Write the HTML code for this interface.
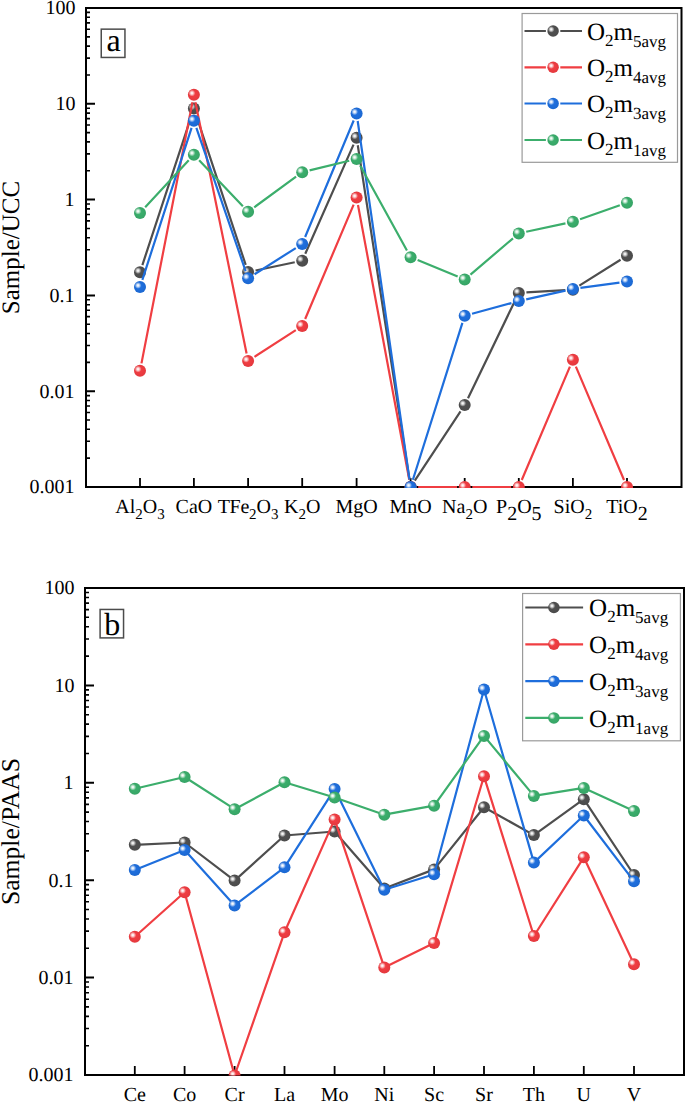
<!DOCTYPE html>
<html><head><meta charset="utf-8"><title>chart</title>
<style>
html,body{margin:0;padding:0;background:#fff;}
svg{display:block;}
text{font-family:"Liberation Serif",serif;fill:#000;text-rendering:geometricPrecision;}
.tl{font-size:20px;}
.tl .s{font-size:15px;}
.tl .b{font-size:20px;}
.tt{font-size:25px;}
.tag{font-size:32px;}
.lg{font-size:25px;}
.lg .ls{font-size:17px;}
.lg .lss{font-size:17px;}
</style></head>
<body>
<svg width="685" height="1102" viewBox="0 0 685 1102">
<defs><radialGradient id="g_gray" cx="0.5" cy="0.5" r="0.5" fx="0.35" fy="0.35"><stop offset="0" stop-color="#616161"/><stop offset="0.5" stop-color="#4f4f4f"/><stop offset="1" stop-color="#4b4b4b"/></radialGradient><radialGradient id="g_red" cx="0.5" cy="0.5" r="0.5" fx="0.35" fy="0.35"><stop offset="0" stop-color="#f15054"/><stop offset="0.5" stop-color="#ef3c41"/><stop offset="1" stop-color="#e3393e"/></radialGradient><radialGradient id="g_blue" cx="0.5" cy="0.5" r="0.5" fx="0.35" fy="0.35"><stop offset="0" stop-color="#347ce0"/><stop offset="0.5" stop-color="#1e6edc"/><stop offset="1" stop-color="#1c68d1"/></radialGradient><radialGradient id="g_green" cx="0.5" cy="0.5" r="0.5" fx="0.35" fy="0.35"><stop offset="0" stop-color="#4eb57a"/><stop offset="0.5" stop-color="#3aad6b"/><stop offset="1" stop-color="#37a466"/></radialGradient><radialGradient id="hl" cx="0.5" cy="0.5" r="0.5"><stop offset="0" stop-color="#fff" stop-opacity="1"/><stop offset="0.3" stop-color="#fff" stop-opacity="0.85"/><stop offset="1" stop-color="#fff" stop-opacity="0"/></radialGradient>
<clipPath id="clipA"><rect x="86" y="8" width="595.5" height="480"/></clipPath>
<clipPath id="clipB"><rect x="85" y="588" width="599" height="487.5"/></clipPath>
</defs>
<rect width="685" height="1102" fill="#fff"/>
<path d="M86 74.96H90M86 58.09H90M86 46.12H90M86 36.84H90M86 29.25H90M86 22.84H90M86 17.28H90M86 12.38H90M86 170.76H90M86 153.89H90M86 141.92H90M86 132.64H90M86 125.05H90M86 118.64H90M86 113.08H90M86 108.18H90M86 266.56H90M86 249.69H90M86 237.72H90M86 228.44H90M86 220.85H90M86 214.44H90M86 208.88H90M86 203.98H90M86 362.36H90M86 345.49H90M86 333.52H90M86 324.24H90M86 316.65H90M86 310.24H90M86 304.68H90M86 299.78H90M86 458.16H90M86 441.29H90M86 429.32H90M86 420.04H90M86 412.45H90M86 406.04H90M86 400.48H90M86 395.58H90" stroke="#000" stroke-width="1.6" fill="none"/>
<path d="M86 103.8H95M86 199.6H95M86 295.4H95M86 391.2H95" stroke="#000" stroke-width="2" fill="none"/>
<path d="M140 487V478M193.9 487V478M248.1 487V478M302.2 487V478M356.6 487V478M410.6 487V478M464.7 487V478M518.8 487V478M572.9 487V478M627 487V478" stroke="#000" stroke-width="1.8" fill="none"/>
<rect x="86" y="8" width="595.5" height="479" fill="none" stroke="#000" stroke-width="2"/>
<text x="75.5" y="14.3" class="tl" text-anchor="end">100</text>
<text x="75.5" y="110.1" class="tl" text-anchor="end">10</text>
<text x="74.4" y="205.9" class="tl" text-anchor="end">1</text>
<text x="74.4" y="301.7" class="tl" text-anchor="end">0.1</text>
<text x="74.4" y="397.5" class="tl" text-anchor="end">0.01</text>
<text x="74.4" y="493.3" class="tl" text-anchor="end">0.001</text>
<text x="140" y="513" class="tl" text-anchor="middle">Al<tspan class="s" dy="5.5">2</tspan><tspan dy="-5.5">O</tspan><tspan class="s" dy="5.5">3</tspan></text>
<text x="193.9" y="513" class="tl" text-anchor="middle">CaO</text>
<text x="248.1" y="513" class="tl" text-anchor="middle"><tspan style="letter-spacing:-0.3px">TFe</tspan><tspan class="s" dy="5.5">2</tspan><tspan dy="-5.5">O</tspan><tspan class="s" dy="5.5">3</tspan></text>
<text x="302.2" y="513" class="tl" text-anchor="middle">K<tspan class="s" dy="5.5">2</tspan><tspan dy="-5.5">O</tspan></text>
<text x="356.6" y="513" class="tl" text-anchor="middle">MgO</text>
<text x="410.6" y="513" class="tl" text-anchor="middle">MnO</text>
<text x="464.7" y="513" class="tl" text-anchor="middle">Na<tspan class="s" dy="5.5">2</tspan><tspan dy="-5.5">O</tspan></text>
<text x="518.8" y="513" class="tl" text-anchor="middle">P<tspan class="b" dy="6.8">2</tspan><tspan dy="-6.8">O</tspan><tspan class="b" dy="6.8">5</tspan></text>
<text x="572.9" y="513" class="tl" text-anchor="middle">SiO<tspan class="s" dy="5.5">2</tspan></text>
<text x="627" y="513" class="tl" text-anchor="middle">TiO<tspan class="b" dy="6.8">2</tspan></text>
<text transform="translate(19.3 247.5) rotate(-90)" class="tt" style="font-size:25px" text-anchor="middle">Sample/UCC</text>
<rect x="101.25" y="29.15" width="23.7" height="28.3" fill="none" stroke="#4c4c4c" stroke-width="1.5"/>
<text x="113.7" y="50.95" class="tag" text-anchor="middle">a</text>
<g clip-path="url(#clipA)">
<path d="M142.37 265.08L191.53 115.62M196.29 115.61L245.71 264.89M255.54 270.53L294.76 262.27M305.27 253.75L353.53 144.65M357.76 145.21L409.44 479.49M414.79 480.66L460.51 411.34M468 398.16L515.5 299.74M526.39 292.45L565.31 290.15M579.33 285.66L620.57 259.74" stroke="#4e4e4e" stroke-width="2.2" fill="none" stroke-linejoin="round" stroke-linecap="butt"/>
<circle cx="140" cy="272.3" r="6" fill="url(#g_gray)"/><circle cx="138" cy="270.6" r="3.4" fill="url(#hl)"/>
<circle cx="193.9" cy="108.4" r="6" fill="url(#g_gray)"/><circle cx="191.9" cy="106.7" r="3.4" fill="url(#hl)"/>
<circle cx="248.1" cy="272.1" r="6" fill="url(#g_gray)"/><circle cx="246.1" cy="270.4" r="3.4" fill="url(#hl)"/>
<circle cx="302.2" cy="260.7" r="6" fill="url(#g_gray)"/><circle cx="300.2" cy="259" r="3.4" fill="url(#hl)"/>
<circle cx="356.6" cy="137.7" r="6" fill="url(#g_gray)"/><circle cx="354.6" cy="136" r="3.4" fill="url(#hl)"/>
<circle cx="410.6" cy="487" r="6" fill="url(#g_gray)"/><circle cx="408.6" cy="485.3" r="3.4" fill="url(#hl)"/>
<circle cx="464.7" cy="405" r="6" fill="url(#g_gray)"/><circle cx="462.7" cy="403.3" r="3.4" fill="url(#hl)"/>
<circle cx="518.8" cy="292.9" r="6" fill="url(#g_gray)"/><circle cx="516.8" cy="291.2" r="3.4" fill="url(#hl)"/>
<circle cx="572.9" cy="289.7" r="6" fill="url(#g_gray)"/><circle cx="570.9" cy="288" r="3.4" fill="url(#hl)"/>
<circle cx="627" cy="255.7" r="6" fill="url(#g_gray)"/><circle cx="625" cy="254" r="3.4" fill="url(#hl)"/>
<path d="M141.46 363.34L192.44 102.26M195.42 102.25L246.58 353.55M254.48 356.87L295.82 330.13M305.16 319L353.64 204.6M357.99 205.07L409.21 479.53M418.2 487L457.1 487M472.3 487L511.2 487M521.77 480.01L569.93 366.69M575.87 366.69L624.03 480.01" stroke="#f03e42" stroke-width="2.2" fill="none" stroke-linejoin="round" stroke-linecap="butt"/>
<circle cx="140" cy="370.8" r="6" fill="url(#g_red)"/><circle cx="138" cy="369.1" r="3.4" fill="url(#hl)"/>
<circle cx="193.9" cy="94.8" r="6" fill="url(#g_red)"/><circle cx="191.9" cy="93.1" r="3.4" fill="url(#hl)"/>
<circle cx="248.1" cy="361" r="6" fill="url(#g_red)"/><circle cx="246.1" cy="359.3" r="3.4" fill="url(#hl)"/>
<circle cx="302.2" cy="326" r="6" fill="url(#g_red)"/><circle cx="300.2" cy="324.3" r="3.4" fill="url(#hl)"/>
<circle cx="356.6" cy="197.6" r="6" fill="url(#g_red)"/><circle cx="354.6" cy="195.9" r="3.4" fill="url(#hl)"/>
<circle cx="410.6" cy="487" r="6" fill="url(#g_red)"/><circle cx="408.6" cy="485.3" r="3.4" fill="url(#hl)"/>
<circle cx="464.7" cy="487" r="6" fill="url(#g_red)"/><circle cx="462.7" cy="485.3" r="3.4" fill="url(#hl)"/>
<circle cx="518.8" cy="487" r="6" fill="url(#g_red)"/><circle cx="516.8" cy="485.3" r="3.4" fill="url(#hl)"/>
<circle cx="572.9" cy="359.7" r="6" fill="url(#g_red)"/><circle cx="570.9" cy="358" r="3.4" fill="url(#hl)"/>
<circle cx="627" cy="487" r="6" fill="url(#g_red)"/><circle cx="625" cy="485.3" r="3.4" fill="url(#hl)"/>
<path d="M142.34 279.87L191.56 127.93M196.37 127.89L245.63 271.11M254.52 274.23L295.78 248.07M305.12 236.99L353.68 120.51M357.69 121.02L409.51 479.48M412.89 479.75L462.41 322.95M472.04 313.72L511.46 303.08M526.22 299.44L565.48 290.66M580.43 287.96L619.47 282.54" stroke="#1e6edc" stroke-width="2.2" fill="none" stroke-linejoin="round" stroke-linecap="butt"/>
<circle cx="140" cy="287.1" r="6" fill="url(#g_blue)"/><circle cx="138" cy="285.4" r="3.4" fill="url(#hl)"/>
<circle cx="193.9" cy="120.7" r="6" fill="url(#g_blue)"/><circle cx="191.9" cy="119" r="3.4" fill="url(#hl)"/>
<circle cx="248.1" cy="278.3" r="6" fill="url(#g_blue)"/><circle cx="246.1" cy="276.6" r="3.4" fill="url(#hl)"/>
<circle cx="302.2" cy="244" r="6" fill="url(#g_blue)"/><circle cx="300.2" cy="242.3" r="3.4" fill="url(#hl)"/>
<circle cx="356.6" cy="113.5" r="6" fill="url(#g_blue)"/><circle cx="354.6" cy="111.8" r="3.4" fill="url(#hl)"/>
<circle cx="410.6" cy="487" r="6" fill="url(#g_blue)"/><circle cx="408.6" cy="485.3" r="3.4" fill="url(#hl)"/>
<circle cx="464.7" cy="315.7" r="6" fill="url(#g_blue)"/><circle cx="462.7" cy="314" r="3.4" fill="url(#hl)"/>
<circle cx="518.8" cy="301.1" r="6" fill="url(#g_blue)"/><circle cx="516.8" cy="299.4" r="3.4" fill="url(#hl)"/>
<circle cx="572.9" cy="289" r="6" fill="url(#g_blue)"/><circle cx="570.9" cy="287.3" r="3.4" fill="url(#hl)"/>
<circle cx="627" cy="281.5" r="6" fill="url(#g_blue)"/><circle cx="625" cy="279.8" r="3.4" fill="url(#hl)"/>
<path d="M145.16 207.32L188.74 160.28M199.13 160.21L242.87 206.29M254.23 207.31L296.07 176.69M309.59 170.41L349.21 160.79M360.26 165.66L406.94 250.54M417.63 260.1L457.67 276.6M470.48 274.57L513.02 238.33M526.23 231.79L565.47 223.31M580.07 219.18L619.83 205.22" stroke="#3cae6c" stroke-width="2.2" fill="none" stroke-linejoin="round" stroke-linecap="butt"/>
<circle cx="140" cy="212.9" r="6" fill="url(#g_green)"/><circle cx="138" cy="211.2" r="3.4" fill="url(#hl)"/>
<circle cx="193.9" cy="154.7" r="6" fill="url(#g_green)"/><circle cx="191.9" cy="153" r="3.4" fill="url(#hl)"/>
<circle cx="248.1" cy="211.8" r="6" fill="url(#g_green)"/><circle cx="246.1" cy="210.1" r="3.4" fill="url(#hl)"/>
<circle cx="302.2" cy="172.2" r="6" fill="url(#g_green)"/><circle cx="300.2" cy="170.5" r="3.4" fill="url(#hl)"/>
<circle cx="356.6" cy="159" r="6" fill="url(#g_green)"/><circle cx="354.6" cy="157.3" r="3.4" fill="url(#hl)"/>
<circle cx="410.6" cy="257.2" r="6" fill="url(#g_green)"/><circle cx="408.6" cy="255.5" r="3.4" fill="url(#hl)"/>
<circle cx="464.7" cy="279.5" r="6" fill="url(#g_green)"/><circle cx="462.7" cy="277.8" r="3.4" fill="url(#hl)"/>
<circle cx="518.8" cy="233.4" r="6" fill="url(#g_green)"/><circle cx="516.8" cy="231.7" r="3.4" fill="url(#hl)"/>
<circle cx="572.9" cy="221.7" r="6" fill="url(#g_green)"/><circle cx="570.9" cy="220" r="3.4" fill="url(#hl)"/>
<circle cx="627" cy="202.7" r="6" fill="url(#g_green)"/><circle cx="625" cy="201" r="3.4" fill="url(#hl)"/>
</g>
<rect x="522.1" y="13.5" width="155.4" height="148.8" fill="#fff" stroke="#9a9a9a" stroke-width="1.2"/>
<path d="M524.5 31H545.9M560.3 31H582" stroke="#4e4e4e" stroke-width="2.2" fill="none"/>
<circle cx="553.1" cy="31" r="5.75" fill="url(#g_gray)"/><circle cx="551.18" cy="29.37" r="3.26" fill="url(#hl)"/>
<text x="587" y="39.6" class="lg">O<tspan class="ls" dy="6">2</tspan><tspan dy="-6">m</tspan><tspan class="lss" dy="7">5avg</tspan></text>
<path d="M524.5 67.3H545.9M560.3 67.3H582" stroke="#f03e42" stroke-width="2.2" fill="none"/>
<circle cx="553.1" cy="67.3" r="5.75" fill="url(#g_red)"/><circle cx="551.18" cy="65.67" r="3.26" fill="url(#hl)"/>
<text x="587" y="75.9" class="lg">O<tspan class="ls" dy="6">2</tspan><tspan dy="-6">m</tspan><tspan class="lss" dy="7">4avg</tspan></text>
<path d="M524.5 103.5H545.9M560.3 103.5H582" stroke="#1e6edc" stroke-width="2.2" fill="none"/>
<circle cx="553.1" cy="103.5" r="5.75" fill="url(#g_blue)"/><circle cx="551.18" cy="101.87" r="3.26" fill="url(#hl)"/>
<text x="587" y="112.1" class="lg">O<tspan class="ls" dy="6">2</tspan><tspan dy="-6">m</tspan><tspan class="lss" dy="7">3avg</tspan></text>
<path d="M524.5 140H545.9M560.3 140H582" stroke="#3cae6c" stroke-width="2.2" fill="none"/>
<circle cx="553.1" cy="140" r="5.75" fill="url(#g_green)"/><circle cx="551.18" cy="138.37" r="3.26" fill="url(#hl)"/>
<text x="587" y="148.6" class="lg">O<tspan class="ls" dy="6">2</tspan><tspan dy="-6">m</tspan><tspan class="lss" dy="7">1avg</tspan></text>
<path d="M85 656.08H89M85 638.93H89M85 626.76H89M85 617.32H89M85 609.61H89M85 603.09H89M85 597.44H89M85 592.46H89M85 753.48H89M85 736.33H89M85 724.16H89M85 714.72H89M85 707.01H89M85 700.49H89M85 694.84H89M85 689.86H89M85 850.88H89M85 833.73H89M85 821.56H89M85 812.12H89M85 804.41H89M85 797.89H89M85 792.24H89M85 787.26H89M85 948.28H89M85 931.13H89M85 918.96H89M85 909.52H89M85 901.81H89M85 895.29H89M85 889.64H89M85 884.66H89M85 1045.68H89M85 1028.53H89M85 1016.36H89M85 1006.92H89M85 999.21H89M85 992.69H89M85 987.04H89M85 982.06H89" stroke="#000" stroke-width="1.6" fill="none"/>
<path d="M85 685.4H94M85 782.8H94M85 880.2H94M85 977.6H94" stroke="#000" stroke-width="2" fill="none"/>
<path d="M134.8 1075V1066M184.6 1075V1066M234.6 1075V1066M284.5 1075V1066M334.6 1075V1066M384.3 1075V1066M434.1 1075V1066M484 1075V1066M533.9 1075V1066M583.8 1075V1066M634 1075V1066" stroke="#000" stroke-width="1.8" fill="none"/>
<rect x="85" y="588" width="599" height="487" fill="none" stroke="#000" stroke-width="2"/>
<text x="74.5" y="594.3" class="tl" text-anchor="end">100</text>
<text x="74.5" y="691.7" class="tl" text-anchor="end">10</text>
<text x="73.4" y="789.1" class="tl" text-anchor="end">1</text>
<text x="73.4" y="886.5" class="tl" text-anchor="end">0.1</text>
<text x="73.4" y="983.9" class="tl" text-anchor="end">0.01</text>
<text x="73.4" y="1081.3" class="tl" text-anchor="end">0.001</text>
<text x="134.8" y="1100.5" class="tl" text-anchor="middle">Ce</text>
<text x="184.6" y="1100.5" class="tl" text-anchor="middle">Co</text>
<text x="234.6" y="1100.5" class="tl" text-anchor="middle">Cr</text>
<text x="284.5" y="1100.5" class="tl" text-anchor="middle">La</text>
<text x="334.6" y="1100.5" class="tl" text-anchor="middle">Mo</text>
<text x="384.3" y="1100.5" class="tl" text-anchor="middle">Ni</text>
<text x="434.1" y="1100.5" class="tl" text-anchor="middle">Sc</text>
<text x="484" y="1100.5" class="tl" text-anchor="middle">Sr</text>
<text x="533.9" y="1100.5" class="tl" text-anchor="middle">Th</text>
<text x="583.8" y="1100.5" class="tl" text-anchor="middle">U</text>
<text x="634" y="1100.5" class="tl" text-anchor="middle">V</text>
<text transform="translate(18.8 831.5) rotate(-90)" class="tt" style="font-size:25.6px" text-anchor="middle">Sample/PAAS</text>
<rect x="100.1" y="609.45" width="23.45" height="28.45" fill="none" stroke="#4c4c4c" stroke-width="1.5"/>
<text x="112.22" y="634.6" class="tag" text-anchor="middle">b</text>
<g clip-path="url(#clipB)">
<path d="M134.8 844.8L184.6 842.5L234.6 880.6L284.5 835.5L334.6 831.5L384.3 888.5L434.1 869.4L484 807.2L533.9 835.1L583.8 799.2L634 875" stroke="#4e4e4e" stroke-width="2.2" fill="none" stroke-linejoin="round" stroke-linecap="round"/>
<circle cx="134.8" cy="844.8" r="6" fill="url(#g_gray)"/><circle cx="132.8" cy="843.1" r="3.4" fill="url(#hl)"/>
<circle cx="184.6" cy="842.5" r="6" fill="url(#g_gray)"/><circle cx="182.6" cy="840.8" r="3.4" fill="url(#hl)"/>
<circle cx="234.6" cy="880.6" r="6" fill="url(#g_gray)"/><circle cx="232.6" cy="878.9" r="3.4" fill="url(#hl)"/>
<circle cx="284.5" cy="835.5" r="6" fill="url(#g_gray)"/><circle cx="282.5" cy="833.8" r="3.4" fill="url(#hl)"/>
<circle cx="334.6" cy="831.5" r="6" fill="url(#g_gray)"/><circle cx="332.6" cy="829.8" r="3.4" fill="url(#hl)"/>
<circle cx="384.3" cy="888.5" r="6" fill="url(#g_gray)"/><circle cx="382.3" cy="886.8" r="3.4" fill="url(#hl)"/>
<circle cx="434.1" cy="869.4" r="6" fill="url(#g_gray)"/><circle cx="432.1" cy="867.7" r="3.4" fill="url(#hl)"/>
<circle cx="484" cy="807.2" r="6" fill="url(#g_gray)"/><circle cx="482" cy="805.5" r="3.4" fill="url(#hl)"/>
<circle cx="533.9" cy="835.1" r="6" fill="url(#g_gray)"/><circle cx="531.9" cy="833.4" r="3.4" fill="url(#hl)"/>
<circle cx="583.8" cy="799.2" r="6" fill="url(#g_gray)"/><circle cx="581.8" cy="797.5" r="3.4" fill="url(#hl)"/>
<circle cx="634" cy="875" r="6" fill="url(#g_gray)"/><circle cx="632" cy="873.3" r="3.4" fill="url(#hl)"/>
<path d="M134.8 936.8L184.6 892.3L234.6 1075.5L284.5 932.3L334.6 819.4L384.3 967.4L434.1 942.9L484 776.3L533.9 936L583.8 857.3L634 964.2" stroke="#f03e42" stroke-width="2.2" fill="none" stroke-linejoin="round" stroke-linecap="round"/>
<circle cx="134.8" cy="936.8" r="6" fill="url(#g_red)"/><circle cx="132.8" cy="935.1" r="3.4" fill="url(#hl)"/>
<circle cx="184.6" cy="892.3" r="6" fill="url(#g_red)"/><circle cx="182.6" cy="890.6" r="3.4" fill="url(#hl)"/>
<circle cx="234.6" cy="1075.5" r="6" fill="url(#g_red)"/><circle cx="232.6" cy="1073.8" r="3.4" fill="url(#hl)"/>
<circle cx="284.5" cy="932.3" r="6" fill="url(#g_red)"/><circle cx="282.5" cy="930.6" r="3.4" fill="url(#hl)"/>
<circle cx="334.6" cy="819.4" r="6" fill="url(#g_red)"/><circle cx="332.6" cy="817.7" r="3.4" fill="url(#hl)"/>
<circle cx="384.3" cy="967.4" r="6" fill="url(#g_red)"/><circle cx="382.3" cy="965.7" r="3.4" fill="url(#hl)"/>
<circle cx="434.1" cy="942.9" r="6" fill="url(#g_red)"/><circle cx="432.1" cy="941.2" r="3.4" fill="url(#hl)"/>
<circle cx="484" cy="776.3" r="6" fill="url(#g_red)"/><circle cx="482" cy="774.6" r="3.4" fill="url(#hl)"/>
<circle cx="533.9" cy="936" r="6" fill="url(#g_red)"/><circle cx="531.9" cy="934.3" r="3.4" fill="url(#hl)"/>
<circle cx="583.8" cy="857.3" r="6" fill="url(#g_red)"/><circle cx="581.8" cy="855.6" r="3.4" fill="url(#hl)"/>
<circle cx="634" cy="964.2" r="6" fill="url(#g_red)"/><circle cx="632" cy="962.5" r="3.4" fill="url(#hl)"/>
<path d="M134.8 869.9L184.6 850.1L234.6 905.4L284.5 867.3L334.6 789.1L384.3 889.8L434.1 874.3L484 689.5L533.9 862.6L583.8 815.5L634 881.3" stroke="#1e6edc" stroke-width="2.2" fill="none" stroke-linejoin="round" stroke-linecap="round"/>
<circle cx="134.8" cy="869.9" r="6" fill="url(#g_blue)"/><circle cx="132.8" cy="868.2" r="3.4" fill="url(#hl)"/>
<circle cx="184.6" cy="850.1" r="6" fill="url(#g_blue)"/><circle cx="182.6" cy="848.4" r="3.4" fill="url(#hl)"/>
<circle cx="234.6" cy="905.4" r="6" fill="url(#g_blue)"/><circle cx="232.6" cy="903.7" r="3.4" fill="url(#hl)"/>
<circle cx="284.5" cy="867.3" r="6" fill="url(#g_blue)"/><circle cx="282.5" cy="865.6" r="3.4" fill="url(#hl)"/>
<circle cx="334.6" cy="789.1" r="6" fill="url(#g_blue)"/><circle cx="332.6" cy="787.4" r="3.4" fill="url(#hl)"/>
<circle cx="384.3" cy="889.8" r="6" fill="url(#g_blue)"/><circle cx="382.3" cy="888.1" r="3.4" fill="url(#hl)"/>
<circle cx="434.1" cy="874.3" r="6" fill="url(#g_blue)"/><circle cx="432.1" cy="872.6" r="3.4" fill="url(#hl)"/>
<circle cx="484" cy="689.5" r="6" fill="url(#g_blue)"/><circle cx="482" cy="687.8" r="3.4" fill="url(#hl)"/>
<circle cx="533.9" cy="862.6" r="6" fill="url(#g_blue)"/><circle cx="531.9" cy="860.9" r="3.4" fill="url(#hl)"/>
<circle cx="583.8" cy="815.5" r="6" fill="url(#g_blue)"/><circle cx="581.8" cy="813.8" r="3.4" fill="url(#hl)"/>
<circle cx="634" cy="881.3" r="6" fill="url(#g_blue)"/><circle cx="632" cy="879.6" r="3.4" fill="url(#hl)"/>
<path d="M134.8 788.8L184.6 777L234.6 809.2L284.5 782.3L334.6 797.5L384.3 814.7L434.1 805.7L484 735.9L533.9 795.9L583.8 787.9L634 810.9" stroke="#3cae6c" stroke-width="2.2" fill="none" stroke-linejoin="round" stroke-linecap="round"/>
<circle cx="134.8" cy="788.8" r="6" fill="url(#g_green)"/><circle cx="132.8" cy="787.1" r="3.4" fill="url(#hl)"/>
<circle cx="184.6" cy="777" r="6" fill="url(#g_green)"/><circle cx="182.6" cy="775.3" r="3.4" fill="url(#hl)"/>
<circle cx="234.6" cy="809.2" r="6" fill="url(#g_green)"/><circle cx="232.6" cy="807.5" r="3.4" fill="url(#hl)"/>
<circle cx="284.5" cy="782.3" r="6" fill="url(#g_green)"/><circle cx="282.5" cy="780.6" r="3.4" fill="url(#hl)"/>
<circle cx="334.6" cy="797.5" r="6" fill="url(#g_green)"/><circle cx="332.6" cy="795.8" r="3.4" fill="url(#hl)"/>
<circle cx="384.3" cy="814.7" r="6" fill="url(#g_green)"/><circle cx="382.3" cy="813" r="3.4" fill="url(#hl)"/>
<circle cx="434.1" cy="805.7" r="6" fill="url(#g_green)"/><circle cx="432.1" cy="804" r="3.4" fill="url(#hl)"/>
<circle cx="484" cy="735.9" r="6" fill="url(#g_green)"/><circle cx="482" cy="734.2" r="3.4" fill="url(#hl)"/>
<circle cx="533.9" cy="795.9" r="6" fill="url(#g_green)"/><circle cx="531.9" cy="794.2" r="3.4" fill="url(#hl)"/>
<circle cx="583.8" cy="787.9" r="6" fill="url(#g_green)"/><circle cx="581.8" cy="786.2" r="3.4" fill="url(#hl)"/>
<circle cx="634" cy="810.9" r="6" fill="url(#g_green)"/><circle cx="632" cy="809.2" r="3.4" fill="url(#hl)"/>
</g>
<rect x="522.6" y="593.5" width="157.8" height="147.3" fill="#fff" stroke="#9a9a9a" stroke-width="1.2"/>
<path d="M525.3 607.5H583.1" stroke="#4e4e4e" stroke-width="2.2" fill="none"/>
<circle cx="553.9" cy="607.5" r="5.75" fill="url(#g_gray)"/><circle cx="551.98" cy="605.87" r="3.26" fill="url(#hl)"/>
<text x="589.1" y="616.1" class="lg">O<tspan class="ls" dy="6">2</tspan><tspan dy="-6">m</tspan><tspan class="lss" dy="7">5avg</tspan></text>
<path d="M525.3 644.3H583.1" stroke="#f03e42" stroke-width="2.2" fill="none"/>
<circle cx="553.9" cy="644.3" r="5.75" fill="url(#g_red)"/><circle cx="551.98" cy="642.67" r="3.26" fill="url(#hl)"/>
<text x="589.1" y="652.9" class="lg">O<tspan class="ls" dy="6">2</tspan><tspan dy="-6">m</tspan><tspan class="lss" dy="7">4avg</tspan></text>
<path d="M525.3 681.2H583.1" stroke="#1e6edc" stroke-width="2.2" fill="none"/>
<circle cx="553.9" cy="681.2" r="5.75" fill="url(#g_blue)"/><circle cx="551.98" cy="679.57" r="3.26" fill="url(#hl)"/>
<text x="589.1" y="689.8" class="lg">O<tspan class="ls" dy="6">2</tspan><tspan dy="-6">m</tspan><tspan class="lss" dy="7">3avg</tspan></text>
<path d="M525.3 717.9H583.1" stroke="#3cae6c" stroke-width="2.2" fill="none"/>
<circle cx="553.9" cy="717.9" r="5.75" fill="url(#g_green)"/><circle cx="551.98" cy="716.27" r="3.26" fill="url(#hl)"/>
<text x="589.1" y="726.5" class="lg">O<tspan class="ls" dy="6">2</tspan><tspan dy="-6">m</tspan><tspan class="lss" dy="7">1avg</tspan></text>
</svg>
</body></html>
